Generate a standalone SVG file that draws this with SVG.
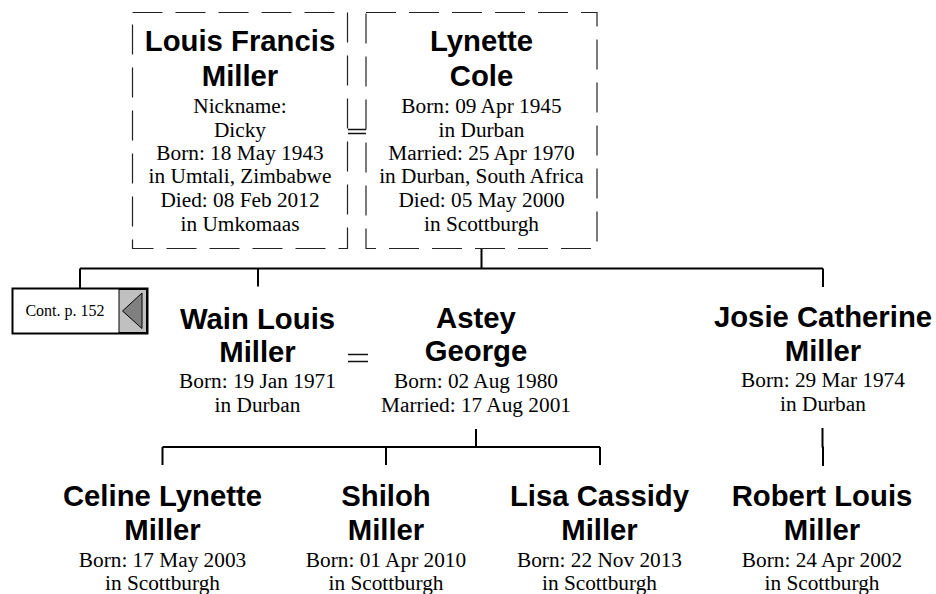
<svg xmlns="http://www.w3.org/2000/svg" width="936" height="594" viewBox="0 0 936 594">
<style>
.bg{fill:#fff}
.box{fill:none;stroke:#222;stroke-width:1.2;stroke-dasharray:30 13}
.con{fill:none;stroke:#000;stroke-width:2}
.thin{fill:none;stroke:#111;stroke-width:1.3}
.n{font-family:'Liberation Sans',Arial,sans-serif;font-weight:bold;font-size:29.3px;fill:#000;text-anchor:middle}
.d{font-family:'Liberation Serif',Tinos,'Times New Roman',Times,'Nimbus Roman','FreeSerif','Noto Serif','DejaVu Serif',serif;font-size:21.3px;fill:#000;text-anchor:middle}
.c{font-family:'Liberation Serif',Tinos,'Times New Roman',Times,'Nimbus Roman','FreeSerif','Noto Serif','DejaVu Serif',serif;font-size:16px;fill:#000;text-anchor:middle}
</style>
<rect class="bg" x="0" y="0" width="936" height="594"/>
<g id="connectors">
<path class="thin" d="M348,129.5H366M348,133.5H366"/>
<path class="con" d="M481.5,249V268.5M80,268.5H823M80,268.5V288M258,268.5V286.5M823,268.5V287"/>
<path class="thin" d="M348,354.5H368M348,361.5H368"/>
<path class="con" d="M476,429V447M162.5,447H600M162.5,447V465M386,447V465M600,447V465"/>
<path class="con" d="M822.5,428V447.5M823,446.5V466"/>
</g>
<g id="louis">
<rect class="box" x="132.5" y="12.5" width="215" height="236"/>
<text class="n" x="240" y="50.5">Louis Francis</text>
<text class="n" x="240" y="86">Miller</text>
<text class="d" x="240" y="112.5">Nickname:</text>
<text class="d" x="240" y="136.5">Dicky</text>
<text class="d" x="240" y="159.5">Born: 18 May 1943</text>
<text class="d" x="240" y="183.3">in Umtali, Zimbabwe</text>
<text class="d" x="240" y="207.3">Died: 08 Feb 2012</text>
<text class="d" x="240" y="231">in Umkomaas</text>
</g>
<g id="lynette">
<rect class="box" x="366" y="12.5" width="231" height="236"/>
<text class="n" x="481.5" y="50.5">Lynette</text>
<text class="n" x="481.5" y="86">Cole</text>
<text class="d" x="481.5" y="112.5">Born: 09 Apr 1945</text>
<text class="d" x="481.5" y="136.5">in Durban</text>
<text class="d" x="481.5" y="159.5">Married: 25 Apr 1970</text>
<text class="d" x="481.5" y="183.3">in Durban, South Africa</text>
<text class="d" x="481.5" y="207.3">Died: 05 May 2000</text>
<text class="d" x="481.5" y="231">in Scottburgh</text>
</g>
<g id="cont">
<rect x="12.5" y="288.5" width="135" height="45" fill="#fff" stroke="#000" stroke-width="2"/>
<rect x="119" y="289.5" width="27.5" height="43" fill="#c0c0c0" stroke="#000" stroke-width="1"/>
<polygon points="122.5,311 142,293 142,328.5" fill="#808080" stroke="#000" stroke-width="1"/>
<text class="c" x="65" y="315.5">Cont. p. 152</text>
</g>
<g id="wain">
<text class="n" x="257.5" y="329">Wain Louis</text>
<text class="n" x="257.5" y="361.5">Miller</text>
<text class="d" x="257.5" y="387.5">Born: 19 Jan 1971</text>
<text class="d" x="257.5" y="411.5">in Durban</text>
</g>
<g id="astey">
<text class="n" x="476" y="328">Astey</text>
<text class="n" x="476" y="361">George</text>
<text class="d" x="476" y="387.5">Born: 02 Aug 1980</text>
<text class="d" x="476" y="411.5">Married: 17 Aug 2001</text>
</g>
<g id="josie">
<text class="n" x="823" y="327">Josie Catherine</text>
<text class="n" x="823" y="360.5">Miller</text>
<text class="d" x="823" y="386.5">Born: 29 Mar 1974</text>
<text class="d" x="823" y="410.5">in Durban</text>
</g>
<g id="celine">
<text class="n" x="162.5" y="506">Celine Lynette</text>
<text class="n" x="162.5" y="540">Miller</text>
<text class="d" x="162.5" y="566.5">Born: 17 May 2003</text>
<text class="d" x="162.5" y="590">in Scottburgh</text>
</g>
<g id="shiloh">
<text class="n" x="386" y="506">Shiloh</text>
<text class="n" x="386" y="540">Miller</text>
<text class="d" x="386" y="566.5">Born: 01 Apr 2010</text>
<text class="d" x="386" y="590">in Scottburgh</text>
</g>
<g id="lisa">
<text class="n" x="599.5" y="506">Lisa Cassidy</text>
<text class="n" x="599.5" y="540">Miller</text>
<text class="d" x="599.5" y="566.5">Born: 22 Nov 2013</text>
<text class="d" x="599.5" y="590">in Scottburgh</text>
</g>
<g id="robert">
<text class="n" x="822" y="506">Robert Louis</text>
<text class="n" x="822" y="540">Miller</text>
<text class="d" x="822" y="566.5">Born: 24 Apr 2002</text>
<text class="d" x="822" y="590">in Scottburgh</text>
</g>
</svg>
